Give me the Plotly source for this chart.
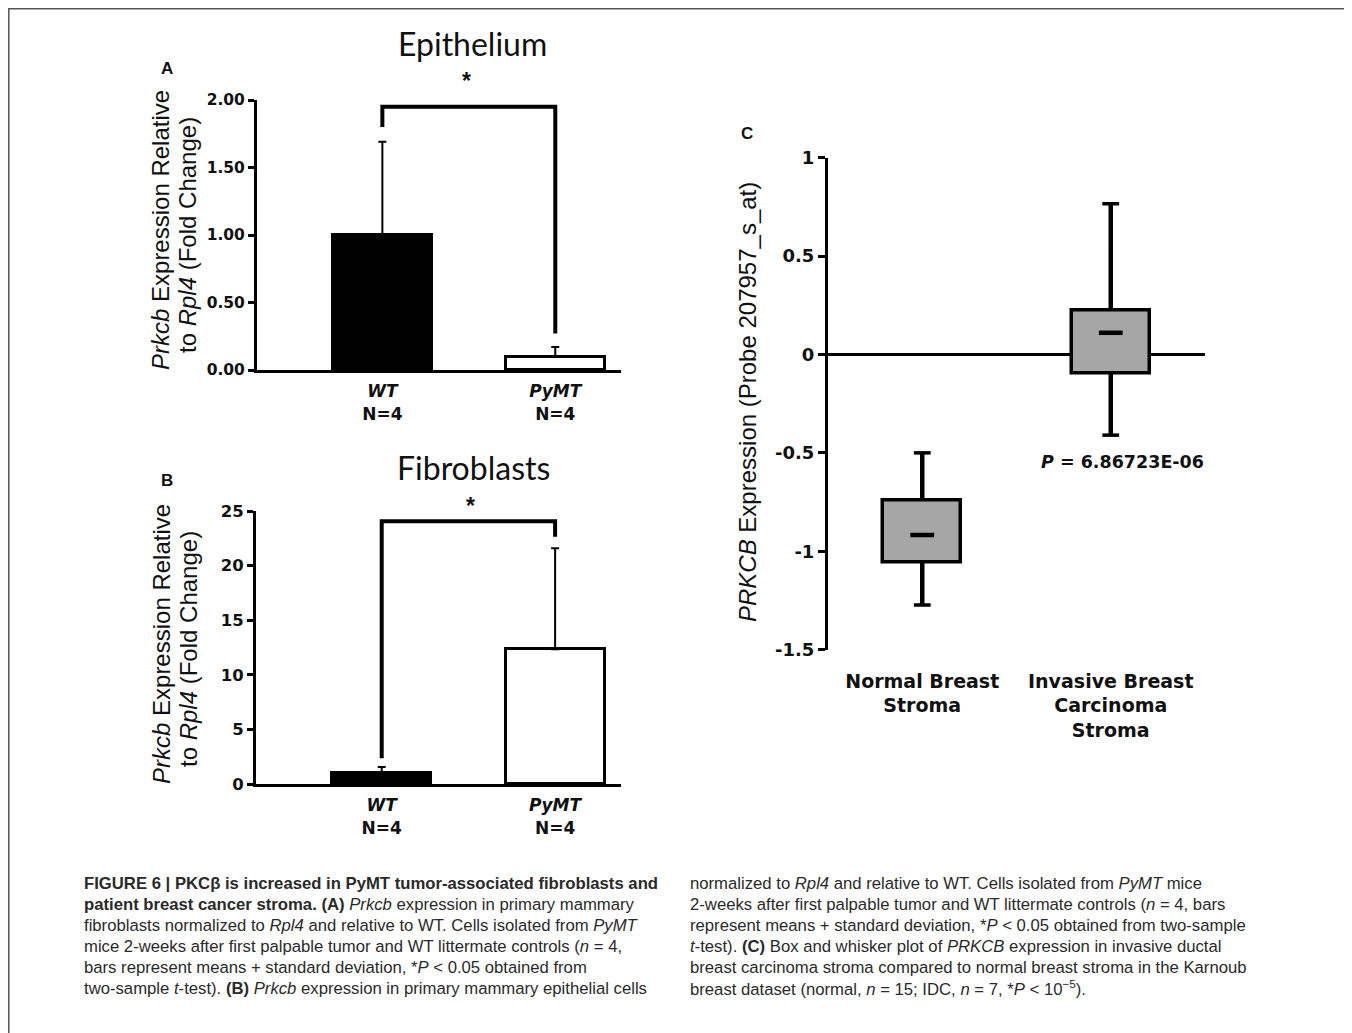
import plotly.graph_objects as go

# The page body keeps its default 8px margin, so the figure is 8px smaller
# and all target positions are shifted by that offset.
OFF = 8
W, H = 1352 - OFF, 1033 - OFF

# ---------------- data ----------------
groups_ab = ["WT", "PyMT"]
n_labels = ["N=4", "N=4"]

epi_mean = [1.00, 0.10]
epi_sd = [0.69, 0.07]
epi_bracket_x = [0, 0, 1, 1]
epi_bracket_y = [1.80, 1.95, 1.95, 0.27]

fib_mean = [1.0, 12.35]
fib_sd = [0.55, 9.25]
fib_bracket_x = [0, 0, 1, 1]
fib_bracket_y = [2.35, 24.05, 24.05, 22.65]

groups_c = ["Normal Breast<br>Stroma", "Invasive Breast<br>Carcinoma<br>Stroma"]
c_q1 = [-1.06, -0.095]
c_q3 = [-0.74, 0.225]
c_med = [-0.917, 0.11]
c_low = [-1.273, -0.41]
c_high = [-0.50, 0.765]
c_tickvals = [1, 0.5, 0, -0.5, -1, -1.5]
c_ticktext = ["1", "0.5", "0", "-0.5", "-1", "-1.5"]
c_pvalue = "6.86723E-06"

ytitle_ab = ["<i>Prkcb</i> Expression Relative", "to <i>Rpl4</i> (Fold Change)"]
ytitle_c = "<i>PRKCB</i> Expression (Probe 207957_s_at)"

caption_left = [
    "<b>FIGURE 6 | PKCβ is increased in PyMT tumor-associated fibroblasts and</b>",
    "<b>patient breast cancer stroma. (A)</b> <i>Prkcb</i> expression in primary mammary",
    "fibroblasts normalized to <i>Rpl4</i> and relative to WT. Cells isolated from <i>PyMT</i>",
    "mice 2-weeks after first palpable tumor and WT littermate controls (<i>n</i> = 4,",
    "bars represent means + standard deviation, *<i>P</i> < 0.05 obtained from",
    "two-sample <i>t</i>-test). <b>(B)</b> <i>Prkcb</i> expression in primary mammary epithelial cells",
]
caption_right = [
    "normalized to <i>Rpl4</i> and relative to WT. Cells isolated from <i>PyMT</i> mice",
    "2-weeks after first palpable tumor and WT littermate controls (<i>n</i> = 4, bars",
    "represent means + standard deviation, *<i>P</i> < 0.05 obtained from two-sample",
    "<i>t</i>-test). <b>(C)</b> Box and whisker plot of <i>PRKCB</i> expression in invasive ductal",
    "breast carcinoma stroma compared to normal breast stroma in the Karnoub",
    "breast dataset (normal, <i>n</i> = 15; IDC, <i>n</i> = 7, *<i>P</i> < 10<sup>−5</sup>).",
]

# ---------------- helpers ----------------
def px(x):
    return (x - OFF) / W

def py(y):
    return 1 - (y - OFF) / H

ARIAL = "Arial, Liberation Sans, sans-serif"
WIDE = "DejaVu Sans, Arial, sans-serif"
BLACK = "#111111"
x_pos = [0, 1]
tick_ab = [f"<i>{g}</i><br>{n}" for g, n in zip(groups_ab, n_labels)]

fig = go.Figure()

# ---------------- Panel A: Epithelium ----------------
fig.add_trace(go.Bar(
    x=x_pos, y=epi_mean, width=0.572,
    marker=dict(color=["black", "white"], line=dict(color="black", width=3)),
    error_y=dict(type="data", symmetric=False, array=epi_sd, arrayminus=[0, 0],
                 color="black", thickness=2, width=4),
    xaxis="x", yaxis="y", showlegend=False))
fig.add_trace(go.Scatter(
    x=epi_bracket_x, y=epi_bracket_y, mode="lines",
    line=dict(color="black", width=4), xaxis="x", yaxis="y", showlegend=False))

# ---------------- Panel B: Fibroblasts ----------------
fig.add_trace(go.Bar(
    x=x_pos, y=fib_mean, width=0.572,
    marker=dict(color=["black", "white"], line=dict(color="black", width=3)),
    error_y=dict(type="data", symmetric=False, array=fib_sd, arrayminus=[0, 0],
                 color="black", thickness=2, width=4),
    xaxis="x2", yaxis="y2", showlegend=False))
fig.add_trace(go.Scatter(
    x=fib_bracket_x, y=fib_bracket_y, mode="lines",
    line=dict(color="black", width=4), xaxis="x2", yaxis="y2", showlegend=False))

# ---------------- Panel C: box and whisker ----------------
fig.add_trace(go.Bar(
    x=x_pos, base=c_q1, y=[b - a for a, b in zip(c_q1, c_q3)], width=0.414,
    marker=dict(color="#a6a6a6", line=dict(color="black", width=3.5)),
    xaxis="x3", yaxis="y3", showlegend=False))
wx, wy = [], []
for i in range(len(x_pos)):
    wx += [x_pos[i], x_pos[i], None, x_pos[i], x_pos[i], None]
    wy += [c_low[i], c_q1[i], None, c_q3[i], c_high[i], None]
fig.add_trace(go.Scatter(
    x=wx, y=wy, mode="lines", line=dict(color="black", width=4.5),
    xaxis="x3", yaxis="y3", showlegend=False))
fig.add_trace(go.Scatter(
    x=x_pos + x_pos, y=c_low + c_high, mode="markers",
    marker=dict(symbol="line-ew", size=12, line=dict(color="black", width=3.5)),
    xaxis="x3", yaxis="y3", showlegend=False))
fig.add_trace(go.Scatter(
    x=x_pos, y=c_med, mode="markers",
    marker=dict(symbol="line-ew", size=17, line=dict(color="black", width=4.5)),
    xaxis="x3", yaxis="y3", showlegend=False))

# ---------------- axes ----------------
common_x = dict(showgrid=False, zeroline=False, ticks="", fixedrange=True,
                automargin=False)
common_y = dict(showgrid=False, zeroline=False, showline=True, linewidth=3,
                linecolor="black", ticks="outside", ticklen=6, tickwidth=2.5,
                tickcolor="black", automargin=False, fixedrange=True)

fig.update_layout(
    xaxis=dict(**common_x, domain=[px(257), px(621)], range=[-0.725, 1.38],
               showline=True, linewidth=3, linecolor="black", anchor="y",
               tickvals=x_pos, ticktext=tick_ab, ticklabelstandoff=4,
               tickfont=dict(family=WIDE, size=17, color=BLACK, weight="bold")),
    yaxis=dict(**common_y, domain=[py(370), py(100)], range=[0, 2], dtick=0.5,
               tickformat=".2f", anchor="x",
               tickfont=dict(family=WIDE, size=15.5, color=BLACK, weight="bold")),
    xaxis2=dict(**common_x, domain=[px(256), px(621)], range=[-0.725, 1.38],
                showline=True, linewidth=3, linecolor="black", anchor="y2",
                tickvals=x_pos, ticktext=tick_ab, ticklabelstandoff=4,
                tickfont=dict(family=WIDE, size=17, color=BLACK, weight="bold")),
    yaxis2=dict(**common_y, domain=[py(784), py(511)], range=[0, 25], dtick=5,
                anchor="x2",
                tickfont=dict(family=WIDE, size=16.5, color=BLACK, weight="bold")),
    xaxis3=dict(**common_x, domain=[px(828), px(1205)], range=[-0.5, 1.5],
                showline=False, anchor="y3", tickvals=x_pos, ticktext=groups_c,
                ticklabelstandoff=18,
                tickfont=dict(family=WIDE, size=19, color=BLACK, weight="bold")),
    yaxis3=dict(showgrid=False, showline=True, linewidth=3, linecolor="black",
                ticks="outside", ticklen=7, tickwidth=3, tickcolor="black",
                zeroline=True, zerolinecolor="black", zerolinewidth=3,
                automargin=False, fixedrange=True,
                domain=[py(649.7), py(157.6)], range=[-1.5, 1],
                tickvals=c_tickvals, ticktext=c_ticktext, anchor="x3",
                tickfont=dict(family=WIDE, size=18, color=BLACK, weight="bold")),
)

# ---------------- annotations ----------------
ann = []
def add_text(text, x, y, size, family=ARIAL, color=BLACK, xanchor="center",
             yanchor="middle", angle=0, align="center"):
    ann.append(dict(text=text, x=px(x), y=py(y), xref="paper", yref="paper",
                    showarrow=False, xanchor=xanchor, yanchor=yanchor,
                    textangle=angle, align=align,
                    font=dict(family=family, size=size, color=color)))

# panel letters
add_text("<b>A</b>", 167, 68, 17)
add_text("<b>B</b>", 167, 481, 17)
add_text("<b>C</b>", 747, 133, 17)

# panel titles
add_text("Epithelium", 472, 43, 32, family="Lato, Open Sans, sans-serif")
add_text("Fibroblasts", 473, 468, 32, family="Lato, Open Sans, sans-serif")

# significance asterisks
add_text("<b>*</b>", 466, 81, 23)
add_text("<b>*</b>", 470, 506, 23)

# y-axis titles (one annotation per line for precise spacing)
for yc in (230, 644):
    add_text(ytitle_ab[0], 161, yc, 24, angle=-90)
    add_text(ytitle_ab[1], 188, yc + 5, 24, angle=-90)
add_text(ytitle_c, 747, 402, 24, angle=-90)

# p-value
add_text(f"<b><i>P</i> = {c_pvalue}</b>", 1122, 462, 17.5, family=WIDE)

# caption
cap_font = "Liberation Sans, Arial, sans-serif"
for i, line in enumerate(caption_left):
    add_text(line, 82, 883 + 21 * i, 16.7, family=cap_font, color="#2a2a2a",
             xanchor="left", align="left")
for i, line in enumerate(caption_right):
    add_text(line, 688, 883 + 21 * i, 16.7, family=cap_font, color="#2a2a2a",
             xanchor="left", align="left")

fig.update_layout(
    annotations=ann,
    shapes=[dict(type="rect", xref="paper", yref="paper",
                 x0=px(8.8), x1=px(1347), y0=py(1045), y1=py(8.8),
                 line=dict(color="#555555", width=1.5), layer="below")],
    width=W, height=H, margin=dict(l=0, r=0, t=0, b=0, pad=0, autoexpand=False),
    paper_bgcolor="white", plot_bgcolor="white",
    showlegend=False, bargap=0,
)

fig.write_html("out.html", config={"displayModeBar": False})
